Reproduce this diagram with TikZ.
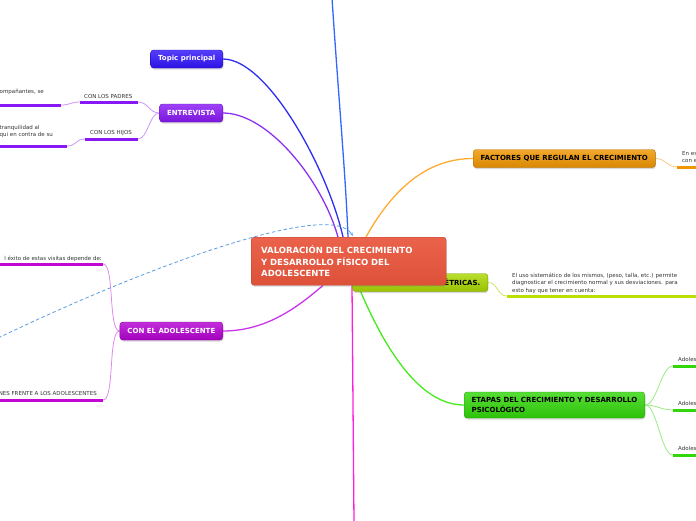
\documentclass[tikz,border=0pt]{standalone}
\usepackage{fontspec}
\setmainfont{DejaVu Sans}
\usetikzlibrary{arrows.meta, shadows, calc, backgrounds}
\definecolor{centre}{RGB}{233,85,60}
\definecolor{ctopic}{RGB}{48,20,252}
\definecolor{cinter}{RGB}{136,24,245}
\definecolor{cadol}{RGB}{180,0,210}
\definecolor{cfact}{RGB}{240,150,0}
\definecolor{cmed}{RGB}{170,215,0}
\definecolor{cetapa}{RGB}{50,215,10}
\definecolor{leafgray}{RGB}{51,51,51}
\definecolor{lblue}{RGB}{51,102,255}
\definecolor{dblue}{RGB}{46,46,240}
\definecolor{lpurple}{RGB}{140,50,240}
\definecolor{lmag}{RGB}{205,50,235}
\definecolor{pink}{RGB}{255,30,220}
\definecolor{lorange}{RGB}{255,170,50}
\definecolor{lgreen}{RGB}{70,235,30}
\definecolor{relblue}{RGB}{90,155,225}
\tikzset{
  topic/.style={rounded corners=3pt, draw=#1!75!black, line width=0.4pt,
    top color=#1!82!white, bottom color=#1!90!black, text=white,
    font=\fontsize{7}{9}\selectfont\bfseries, inner xsep=7.5pt, minimum height=18pt,
    drop shadow={shadow xshift=0.5pt, shadow yshift=-1.5pt, opacity=0.3}},
  central/.style={rounded corners=3pt, draw=centre!80!black, line width=0.4pt,
    top color=centre!92!white, bottom color=centre!95!black, text=white,
    font=\fontsize{8.5}{11.5}\selectfont\bfseries, align=left, text width=175pt,
    inner xsep=10pt, minimum height=48pt, anchor=north west,
    drop shadow={shadow xshift=0.5pt, shadow yshift=-1.5pt, opacity=0.3}},
  leaf/.style={text=leafgray, font=\fontsize{5.5}{7}\selectfont, inner sep=0pt},
  uline/.style={draw=#1, line width=3pt},
  conn/.style={draw=#1, line width=1.3pt},
  sub/.style={draw=#1, line width=0.8pt},
}
\begin{document}
\begin{tikzpicture}[x=1pt,y=-1pt]
\useasboundingbox (0,0) rectangle (696,520);
\clip (0,0) rectangle (696,520);

% main topics
\node[topic=ctopic, anchor=east] (topic) at (223,59) {Topic principal};
\node[topic=cinter, anchor=east] (entrevista) at (223,113) {ENTREVISTA};
\node[topic=cadol, anchor=east] (adol) at (223,331) {CON EL ADOLESCENTE};
\node[topic=cfact, text=black, anchor=west] (factores) at (473,158.5) {FACTORES QUE REGULAN EL CRECIMIENTO};
\node[topic=cmed, text=black, anchor=east] (medidas) at (488,282.5) {MEDIDAS ANTROPOMÉTRICAS.};
\node[topic=cetapa, text=black, anchor=west, align=left, minimum height=26pt,
      font=\fontsize{7}{10}\selectfont\bfseries] (etapas) at (464,405)
  {ETAPAS DEL CRECIMIENTO Y DESARROLLO\\PSICOLÓGICO};
\node[central] (valor) at (251,237)
  {VALORACIÓN DEL CRECIMIENTO\\Y DESARROLLO FÍSICO DEL\\ADOLESCENTE};

% leaves
\node[leaf, anchor=base west] (padres) at (84,98) {CON LOS PADRES};
\coordinate (padres-a) at (80,102); \coordinate (padres-b) at (138,102);
\node[leaf, anchor=base west] (hijos) at (90,134.5) {CON LOS HIJOS};
\coordinate (hijos-a) at (85,139); \coordinate (hijos-b) at (138,139);
\node[leaf, anchor=base east] (acomp) at (44,93) {ompañantes, se};
\coordinate (acomp-a) at (-5,105); \coordinate (acomp-b) at (61,105);
\node[leaf, anchor=north west, align=left] (tranq) at (-0.5,125)
  {tranquilidad al\\qui en contra de su};
\coordinate (tranq-a) at (-5,146); \coordinate (tranq-b) at (67,146);
\node[leaf, anchor=base east] (exito) at (102,260) {l éxito de estas visitas depende de:};
\coordinate (exito-a) at (-5,264); \coordinate (exito-b) at (103,264);
\node[leaf, anchor=base east] (frente) at (97,395.5) {NES FRENTE A LOS ADOLESCENTES};
\coordinate (frente-a) at (-5,400); \coordinate (frente-b) at (103,400);
\node[leaf, anchor=north west, align=left] (enes) at (682,151) {En es\\con e};
\coordinate (enes-a) at (677,167); \coordinate (enes-b) at (700,167);
\node[leaf, anchor=north west, align=left, font=\fontsize{5.5}{7.5}\selectfont] (uso) at (512,272.5)
  {El uso sistemático de los mismos, (peso, talla, etc.) permite\\diagnosticar el crecimiento normal y sus desviaciones. para\\esto hay que tener en cuenta:};
\coordinate (uso-a) at (507,296); \coordinate (uso-b) at (700,296);
\foreach \n/\y in {1/366, 2/410, 3/455} {
  \node[leaf, anchor=base west] (adoles\n) at (678,\y-4.5) {Adoles};
  \coordinate (adoles\n-a) at (673,\y); \coordinate (adoles\n-b) at (700,\y);
}

% free ends
\coordinate (top-end) at (332,-2);
\coordinate (bottom-end) at (354,522);
\coordinate (rel-start) at (-2,338);

\begin{scope}[on background layer]
  % main branches
  \draw[conn=lblue] (top-end) .. controls (338,90) and (346,180) .. ($(valor.north west)+(97,0)$);
  \draw[conn=dblue] (topic.east) .. controls (268,59) and (328,170) .. ($(valor.north west)+(92,0)$);
  \draw[conn=lpurple] (entrevista.east) .. controls (268,113) and (322,180) .. ($(valor.north west)+(87,0)$);
  \draw[conn=lmag] (adol.east) .. controls (268,331) and (300,305) .. ($(valor.south west)+(72,0)$);
  \draw[conn=pink] ($(valor.south west)+(101,0)$) -- (bottom-end);
  \draw[conn=lorange] ($(valor.north west)+(115,0)$) .. controls (395,185) and (430,158.5) .. (factores.west);
  \draw[conn=lgreen] ($(valor.south west)+(107,0)$) .. controls (385,350) and (420,405) .. (etapas.west);
  % sub branches
  \draw[sub=cinter!45!white] (entrevista.west) .. controls +(-10,0) and +(10,0) .. (padres-b);
  \draw[sub=cinter!45!white] (entrevista.west) .. controls +(-10,0) and +(10,0) .. (hijos-b);
  \draw[sub=cinter!45!white] (padres-a) .. controls +(-10,0) and +(10,0) .. (acomp-b);
  \draw[sub=cinter!45!white] (hijos-a) .. controls +(-10,0) and +(10,0) .. (tranq-b);
  \draw[sub=cadol!45!white] (adol.west) .. controls +(-12,0) and +(12,0) .. (exito-b);
  \draw[sub=cadol!45!white] (adol.west) .. controls +(-12,0) and +(12,0) .. (frente-b);
  \draw[sub=cfact!50!white] (factores.east) .. controls +(10,0) and +(-10,0) .. (enes-a);
  \draw[sub=cmed!60!white] (medidas.east) .. controls +(10,0) and +(-10,0) .. (uso-a);
  \foreach \n in {1,2,3}
    \draw[sub=cetapa!50!white] (etapas.east) .. controls +(12,0) and +(-12,0) .. (adoles\n-a);
\end{scope}

% underlines
\draw[uline=cinter] (padres-a) -- (padres-b);
\draw[uline=cinter] (hijos-a) -- (hijos-b);
\draw[uline=cinter] (acomp-a) -- (acomp-b);
\draw[uline=cinter] (tranq-a) -- (tranq-b);
\draw[uline=cadol!80!pink] (exito-a) -- (exito-b);
\draw[uline=cadol!80!pink] (frente-a) -- (frente-b);
\draw[uline=cfact] (enes-a) -- (enes-b);
\draw[uline=cmed!80!yellow] (uso-a) -- (uso-b);
\foreach \n in {1,2,3}
  \draw[uline=cetapa] (adoles\n-a) -- (adoles\n-b);

% relation
\draw[relblue, line width=0.8pt, dash pattern=on 3.5pt off 2.5pt, -{Stealth[length=4pt, width=3pt]}]
  (rel-start) .. controls (150,265) and (330,200) .. ($(valor.north west)+(102,-1)$);
\end{tikzpicture}
\end{document}
